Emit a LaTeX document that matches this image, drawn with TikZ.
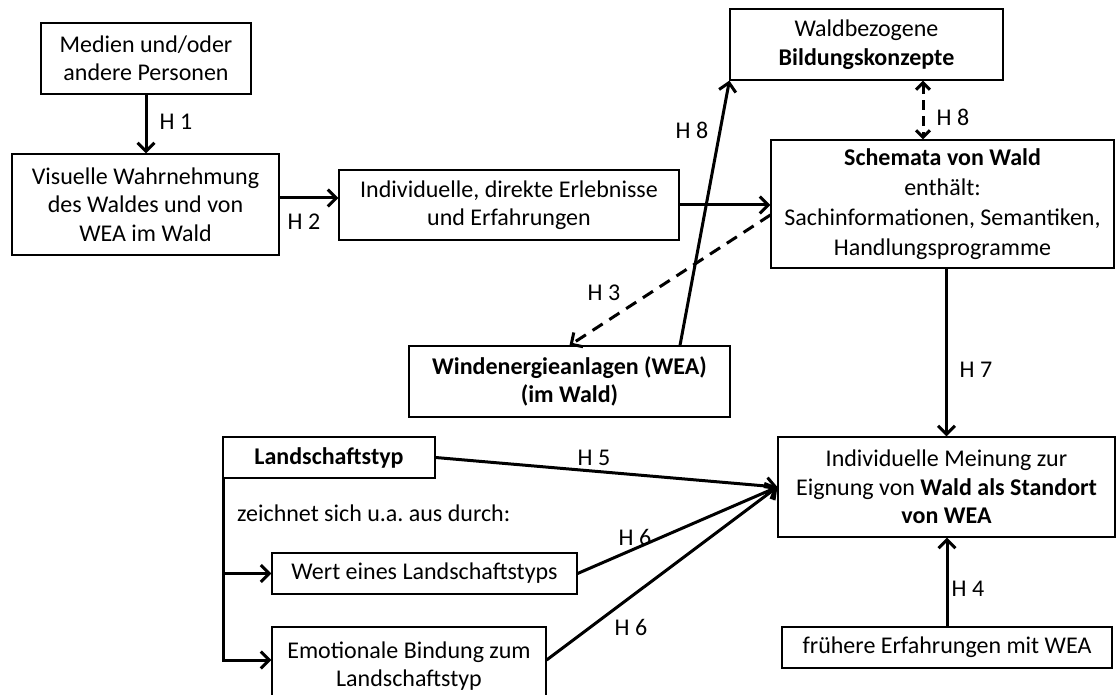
\documentclass[tikz,border=0pt]{standalone}
\usepackage{fontspec}
\setmainfont{Carlito}
\usetikzlibrary{arrows.meta}
\frenchspacing
\begin{document}
\begin{tikzpicture}[x=1pt,y=-1pt,
  box/.style={draw, line width=1.2pt, align=center, inner sep=0pt,
    font=\fontsize{24}{28.5}\selectfont},
  lbl/.style={inner sep=0pt, font=\fontsize{24}{28.5}\selectfont},
  conn/.style={line width=3pt, -{Straight Barb[length=8.5pt,width=17pt,line width=3pt]}},
  dconn/.style={conn, dash pattern=on 12pt off 8pt},
  bconn/.style={line width=3pt, dash pattern=on 10pt off 6pt,
    {Straight Barb[length=7pt,width=14pt,line width=3pt]}-{Straight Barb[length=7pt,width=14pt,line width=3pt]}}
]
\useasboundingbox (0,0) rectangle (1117,695);

% boxes
\node[box, minimum width=210pt, minimum height=71pt] (med) at (146,58.5)
  {Medien und/oder\\andere Personen};
\node[box, minimum width=267pt, minimum height=101pt] (vis) at (145.5,204.5)
  {Visuelle Wahrnehmung\\des Waldes und von\\WEA im Wald};
\node[box, minimum width=340pt, minimum height=70pt] (ind) at (509,205)
  {Individuelle, direkte Erlebnisse\\und Erfahrungen};
\node[box, minimum width=273pt, minimum height=71pt] (wal) at (866.5,44.5)
  {Waldbezogene\\\textbf{Bildungskonzepte}};
\node[box, minimum width=343pt, minimum height=128pt, font=\fontsize{24}{30}\selectfont] (sch) at (942.5,204)
  {\textbf{Schemata von Wald}\\enthält:\\Sachinformationen, Semantiken,\\Handlungsprogramme};
\node[box, minimum width=321pt, minimum height=71pt] (wea) at (569.5,381.5)
  {\textbf{Windenergieanlagen (WEA)}\\\textbf{(im Wald)}};
\node[box, minimum width=337pt, minimum height=100pt] (mein) at (946.5,487)
  {Individuelle Meinung zur\\Eignung von \textbf{Wald als Standort}\\\textbf{von WEA}};
\node[box, minimum width=330pt, minimum height=41pt] (fru) at (947,647.5)
  {frühere Erfahrungen mit WEA};
\node[box, minimum width=212pt, minimum height=41pt] (land) at (329,457.5)
  {\textbf{Landschaftstyp}};
\node[box, minimum width=305pt, minimum height=41pt] (wert) at (424.5,573.5)
  {Wert eines Landschaftstyps};
\node[box, minimum width=274pt, minimum height=78pt] (emo) at (409,666)
  {Emotionale Bindung zum\\Landschaftstyp};
\node[lbl, anchor=base west] (durch) at (237,521) {zeichnet sich u.a. aus durch:};

% connectors
\draw[conn] (med.south) -- (med.south |- vis.north);
\draw[conn] ([yshift=6.5pt]vis.east) -- ([yshift=6.5pt]vis.east -| ind.west);
\draw[conn] (ind.east) -- (ind.east -| sch.west);
\draw[conn] ([xshift=110.5pt]wea.north) -- (wal.south west);
\draw[dconn] ([yshift=-11pt]sch.west) -- (wea.north);
\draw[bconn] ([xshift=56.5pt]wal.south) -- ([xshift=56.5pt]wal.south |- sch.north);
\draw[conn] (mein.north |- sch.south) -- (mein.north);
\draw[conn] (fru.north) -- (fru.north |- mein.south);
\draw[conn] (land.east) -- (mein.west);
\draw[conn] (wert.east) -- (mein.west);
\draw[conn] ([yshift=6pt]emo.east) -- (mein.west);
\draw[conn] ([xshift=1pt]land.south west) |- ([yshift=6pt]emo.west);
\draw[conn] ([xshift=1pt]land.south west |- wert.west) -- (wert.west);

% hypothesis labels
\node[lbl] (h1) at (176,122) {H 1};
\node[lbl] (h2) at (304,222) {H 2};
\node[lbl] (h8a) at (692,130) {H 8};
\node[lbl] (h8b) at (953,117) {H 8};
\node[lbl] (h3) at (604,293) {H 3};
\node[lbl] (h7) at (976,370) {H 7};
\node[lbl] (h5) at (594,458) {H 5};
\node[lbl] (h6a) at (635,537) {H 6};
\node[lbl] (h6b) at (631,627) {H 6};
\node[lbl] (h4) at (968,589) {H 4};
\end{tikzpicture}
\end{document}
